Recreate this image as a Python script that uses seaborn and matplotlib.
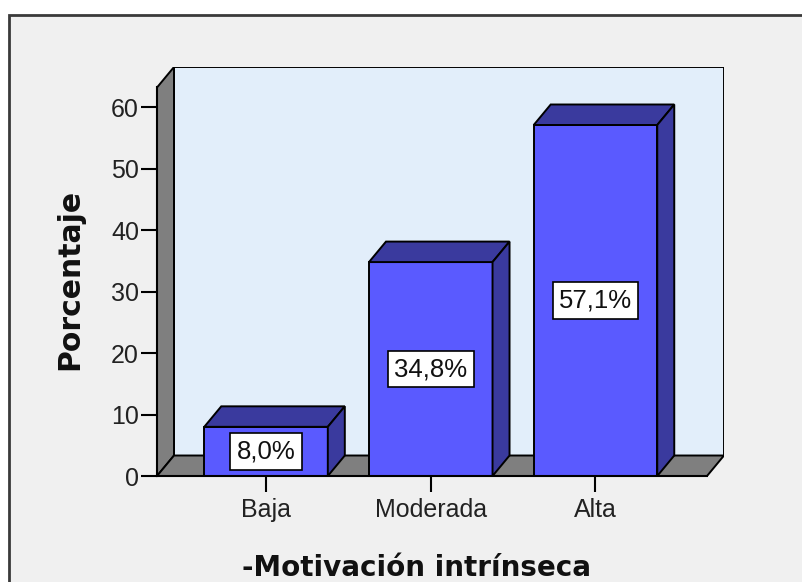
import matplotlib
matplotlib.use('Agg')
import matplotlib.pyplot as plt
import seaborn as sns
from matplotlib.patches import Polygon, Rectangle

# data
categorias = ['Baja', 'Moderada', 'Alta']
porcentajes = [8.0, 34.8, 57.1]
y_ticks = [0, 10, 20, 30, 40, 50, 60]

sns.set_theme(style='white')
plt.rcParams['font.family'] = ['Liberation Sans', 'DejaVu Sans']

bar_front = '#5a5aff'
bar_dark = '#3a3a9e'
wall_gray = '#7f7f7f'
back_blue = '#e2eefa'

fig = plt.figure(figsize=(8.03, 5.82), dpi=100)
fig.patch.set_facecolor('white')
# outer chart frame
fig.patches.append(Rectangle((9 / 803, -0.1), 1.05, (582 - 15) / 582 + 0.1,
                             transform=fig.transFigure, facecolor='#f0f0f0',
                             edgecolor='#3a3a3a', lw=2, zorder=-10))

ax = fig.add_axes([157 / 803, (582 - 476) / 582, (724 - 157) / 803, (476 - 67) / 582])
ax.patch.set_visible(False)

# front plane limits and depth offset (data units)
x0, x1, ytop = -0.662, 2.677, 63.2
dx, dy = 17 / 164.75, 20.5 / 6.15

sns.barplot(x=categorias, y=porcentajes, color=bar_front, width=0.75,
            edgecolor='black', linewidth=1.4, saturation=1, ax=ax, zorder=3)
bars = list(ax.containers[0])

# back wall, side wall and floor
ax.add_patch(Rectangle((x0 + dx, dy), x1 - x0, ytop, facecolor=back_blue,
                       edgecolor='black', lw=1.4, zorder=1))
ax.add_patch(Polygon([(x0, 0), (x0, ytop), (x0 + dx, ytop + dy), (x0 + dx, dy)],
                     closed=True, facecolor=wall_gray, edgecolor='black', lw=1.4, zorder=1.5))
ax.add_patch(Polygon([(x0, 0), (x1, 0), (x1 + dx, dy), (x0 + dx, dy)],
                     closed=True, facecolor=wall_gray, edgecolor='black', lw=1.4, zorder=1.5))

# 3d top and side of each bar
for b in bars:
    x, w, h = b.get_x(), b.get_width(), b.get_height()
    ax.add_patch(Polygon([(x, h), (x + w, h), (x + w + dx, h + dy), (x + dx, h + dy)],
                         closed=True, facecolor=bar_dark, edgecolor='black', lw=1.4, zorder=3))
    ax.add_patch(Polygon([(x + w, 0), (x + w, h), (x + w + dx, h + dy), (x + w + dx, dy)],
                         closed=True, facecolor=bar_dark, edgecolor='black', lw=1.4, zorder=3))

etiquetas = [f'{v:.1f}'.replace('.', ',') + '%' for v in porcentajes]
ax.bar_label(ax.containers[0], labels=etiquetas, label_type='center', fontsize=18.5,
             color='#111111', zorder=5,
             bbox=dict(boxstyle='square,pad=0.25', facecolor='white', edgecolor='black', lw=1.2))

ax.set_xlim(x0, x1 + dx)
ax.set_ylim(0, ytop + dy)
ax.set_yticks(y_ticks)
ax.tick_params(axis='both', which='both', direction='out', length=11.5, width=1.5,
               color='black', labelsize=18, labelcolor='#222222', left=True, bottom=True)
ax.tick_params(axis='y', pad=1.5)
ax.tick_params(axis='x', pad=4)

for s in ['top', 'right']:
    ax.spines[s].set_visible(False)
ax.spines['left'].set_bounds(0, ytop)
ax.spines['bottom'].set_bounds(x0, x1)
for s in ['left', 'bottom']:
    ax.spines[s].set_color('black')
    ax.spines[s].set_linewidth(1.5)
    ax.spines[s].set_zorder(4)

ax.set_ylabel('Porcentaje', fontsize=21.5, fontweight='bold', family='DejaVu Sans', color='#111111')
ax.yaxis.set_label_coords(-0.128, 0.48)
ax.set_xlabel('-Motivación intrínseca', fontsize=20, fontweight='bold', family='DejaVu Sans',
              color='#111111')
ax.xaxis.set_label_coords(0.458, -0.19)

fig.savefig('out.png', dpi=100, facecolor=fig.get_facecolor())
